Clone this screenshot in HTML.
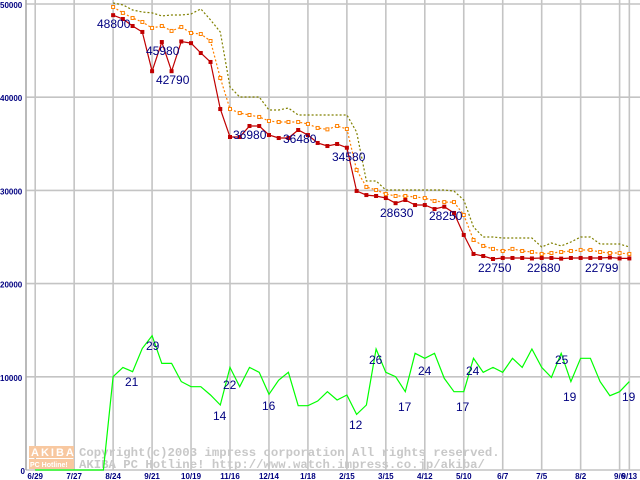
<!DOCTYPE html>
<html><head><meta charset="utf-8"><style>
html,body{margin:0;padding:0;background:#fff;}
svg{display:block;}
.tk{font-family:"Liberation Sans",sans-serif;font-size:8px;font-weight:bold;fill:#000080;}
.lb{font-family:"Liberation Sans",sans-serif;font-size:12px;fill:#000080;}
.wm{font-family:"Liberation Mono",monospace;font-size:12.3px;font-weight:bold;fill:#c8c8c8;}
</style></head><body>
<svg id="chart" width="640" height="480" viewBox="0 0 640 480"></svg>
<script>
const xTickLabels=["6/29","7/27","8/24","9/21","10/19","11/16","12/14","1/18","2/15","3/15","4/12","5/10","6/7","7/5","8/2","9/6","9/13"];
const xTickIdx=[0,4,8,12,16,20,24,28,32,36,40,44,48,52,56,60,61];
const yTicks=[0,10000,20000,30000,40000,50000];
const minPrice=[48800,48390,47640,47000,42790,45920,42790,45980,45800,44740,43780,38730,35730,35730,36910,36910,35940,35620,35620,36480,35940,35090,34760,34980,34580,29940,29500,29400,29180,28630,28970,28430,28430,28000,28250,27580,25220,23180,22960,22640,22750,22750,22750,22700,22750,22750,22680,22750,22750,22750,22750,22799,22700,22700];
const avgPrice=[49680,49040,48500,48070,47430,47640,47110,47530,46890,46780,46030,42060,38730,38300,38090,37880,37450,37340,37340,37340,37130,36700,36550,36910,36590,32190,30370,30040,29610,29400,29400,29290,29180,28860,28750,28750,27360,24680,24040,23720,23500,23720,23500,23390,23180,23280,23390,23500,23610,23610,23390,23280,23280,23180];
const maxPrice=[50110,49900,49360,49140,49040,48720,48820,48820,48930,49470,48290,47000,41100,40020,40020,40020,38630,38630,38840,38090,38090,38090,38090,38090,38090,36270,31010,31010,30040,30040,30040,30040,30040,30040,30040,29930,28970,26070,25000,25000,24890,24890,24890,24890,23930,24360,24040,24460,25000,25000,24250,24250,24250,23930];
const shopCount=[0,0,0,0,0,0,0,0,10010,11010,10550,13050,14410,11440,11440,9480,8940,8940,8050,6970,11010,8940,11010,10480,8120,9650,10480,6900,6900,7400,8400,7510,8050,5970,6970,12980,10480,10010,8400,12520,11980,12520,9830,8400,8400,11980,10480,11010,10480,11980,11010,12980,11010,9940,12520,9480,11980,11980,9480,7970,8400,9480];
const priceLabelText=["48800","45980","42790","36980","36480","34580","28630","28250","22750","22680","22799"];
const priceLabelPos=[[97,28],[146,55],[156,84],[233,139],[283,143],[332,161],[380,217],[429,220],[478,272],[527,272],[585,272]];
const countLabelText=["21","29","14","22","16","12","26","17","24","17","24","25","19","19"];
const countLabelPos=[[125,386],[146,350],[213,420],[223,389],[262,410],[349,429],[369,364],[398,411],[418,375],[456,411],[466,375],[555,364],[563,401],[622,401]];

const NS="http://www.w3.org/2000/svg";
const svg=document.getElementById('chart');
const X0=35.2,DX=9.74,Y0=470,YS=466/50000;
function xPos(i){return X0+i*DX;}
function yPos(v){return Y0-v*YS;}
function mk(t,a,p){const e=document.createElementNS(NS,t);for(const k in a)e.setAttribute(k,a[k]);(p||svg).appendChild(e);return e;}

xTickIdx.forEach((ix,k)=>{
  const g=mk('line',{x1:xPos(ix),x2:xPos(ix),y1:0,y2:Y0,stroke:'#c4c4c4','stroke-width':1.6});
  
  
  const t=mk('text',{x:xPos(ix),y:479,class:'tk','text-anchor':'middle'});t.textContent=xTickLabels[k];
  
  
});
yTicks.forEach(v=>{
  const g=mk('line',{x1:26,x2:640,y1:yPos(v),y2:yPos(v),stroke:'#c4c4c4','stroke-width':1.6});
  
  
  const t=mk('text',{x:0,y:yPos(v)+4,class:'tk'});t.textContent=String(v);
  if(v===0){t.setAttribute('text-anchor','end');t.setAttribute('x',25);}
  
  
});
const ax=mk('line',{x1:26,x2:26,y1:0,y2:Y0,stroke:'#a8a8a8','stroke-width':1.6});



const wg=mk('g',{});


mk('rect',{x:29,y:446,width:45,height:12,fill:'#f8c8a0'},wg);
mk('rect',{x:29,y:459,width:45,height:10,fill:'#f8c8a0'},wg);
const w0=mk('text',{x:31,y:456,style:'font-family:Liberation Sans,sans-serif;font-size:11px;font-weight:bold;fill:#fff;letter-spacing:2px'},wg);w0.textContent='AKIBA';
const w00=mk('text',{x:30,y:467,style:'font-family:Liberation Sans,sans-serif;font-size:7px;font-weight:bold;fill:#fff'},wg);w00.textContent='PC Hotline!';
const w1=mk('text',{x:79,y:456,class:'wm'},wg);w1.textContent='Copyright(c)2003 impress corporation All rights reserved.';
const w2=mk('text',{x:79,y:468,class:'wm'},wg);w2.textContent='AKIBA PC Hotline!  http://www.watch.impress.co.jp/akiba/';

function line(arr,off,attrs,name){
  const pts=arr.map((v,i)=>xPos(i+off).toFixed(1)+','+yPos(v).toFixed(1)).join(' ');
  const p=mk('polyline',Object.assign({points:pts,fill:'none'},attrs));
  
  
}
line(shopCount,0,{stroke:'#00ff00','stroke-width':1.2},'shop-count-line');
line(maxPrice,8,{stroke:'#808000','stroke-width':1.2,'stroke-dasharray':'2,2'},'max-price-line');
line(avgPrice,8,{stroke:'#ff8000','stroke-width':1.2,'stroke-dasharray':'2,2'},'avg-price-line');
avgPrice.forEach((v,i)=>{
  const r=mk('rect',{x:xPos(i+8)-1.5,y:yPos(v)-1.5,width:3,height:3,fill:'#fff',stroke:'#ff8000','stroke-width':1});
  
  
});
line(minPrice,8,{stroke:'#c00000','stroke-width':1.2},'min-price-line');
minPrice.forEach((v,i)=>{
  const r=mk('rect',{x:xPos(i+8)-2,y:yPos(v)-2,width:4,height:4,fill:'#c00000'});
  
  
});
priceLabelText.forEach((s,k)=>{
  const t=mk('text',{x:priceLabelPos[k][0],y:priceLabelPos[k][1],class:'lb'});t.textContent=s;
  
  
});
countLabelText.forEach((s,k)=>{
  const t=mk('text',{x:countLabelPos[k][0],y:countLabelPos[k][1],class:'lb'});t.textContent=s;
  
  
});
</script>
</body></html>
